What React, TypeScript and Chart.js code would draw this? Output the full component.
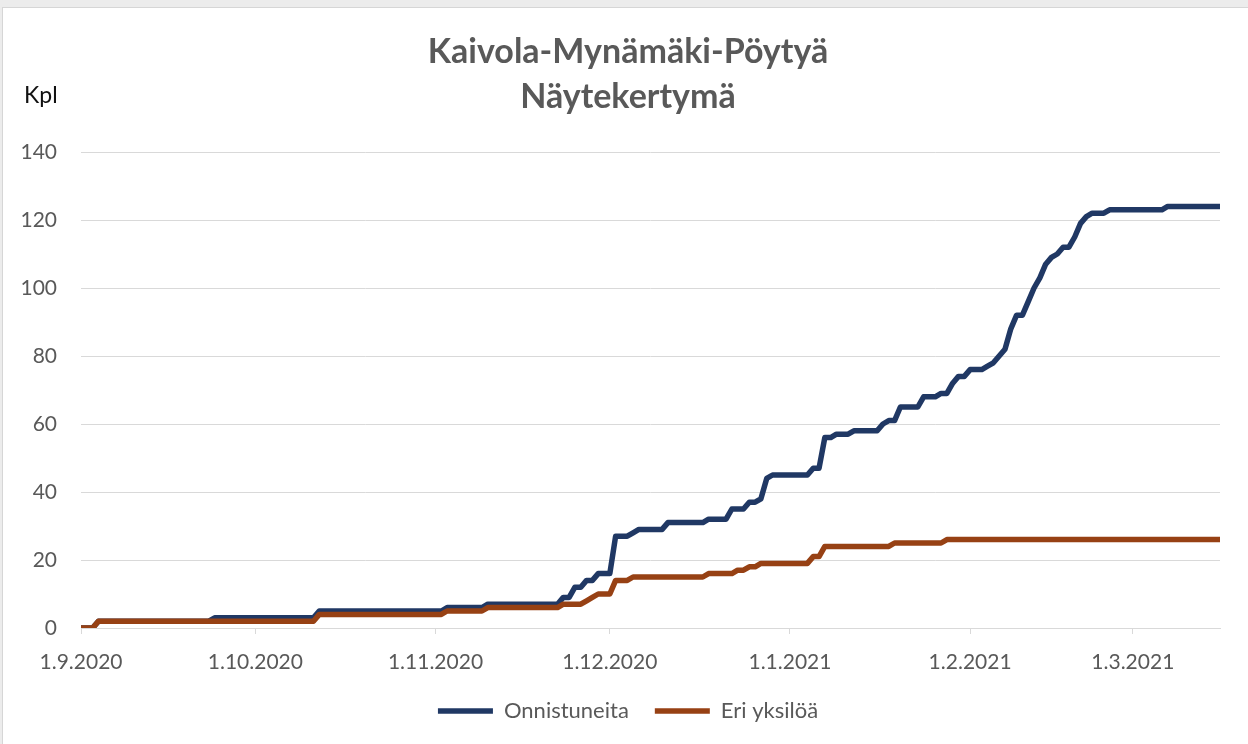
import React, { useEffect, useRef } from "react";
import { Chart, registerables } from "chart.js";

Chart.register(...registerables);

const titleLines = ["Kaivola-Mynämäki-Pöytyä", "Näytekertymä"];
const yUnit = "Kpl";
const seriesNames = ["Onnistuneita", "Eri yksilöä"];

// day index counted from 1.9.2020
const blueDays = [
  0, 2, 3, 22, 23, 40, 41, 62, 63, 69, 70, 82, 83, 84, 85, 86, 87, 88, 89, 91,
  92, 94, 95, 96, 100, 101, 107, 108, 111, 112, 114, 115, 116, 117, 118, 119,
  125, 126, 127, 128, 129, 130, 132, 133, 137, 138, 139, 140, 141, 144, 145,
  147, 148, 149, 150, 151, 152, 153, 155, 156, 157, 158, 159, 160, 161, 162,
  163, 164, 165, 166, 167, 168, 169, 170, 171, 172, 173, 174, 176, 177, 186,
  187, 196,
];
const blueValues = [
  0, 0, 2, 2, 3, 3, 5, 5, 6, 6, 7, 7, 9, 9, 12, 12, 14, 14, 16, 16,
  27, 27, 28, 29, 29, 31, 31, 32, 32, 35, 35, 37, 37, 38, 44, 45,
  45, 47, 47, 56, 56, 57, 57, 58, 58, 60, 61, 61, 65, 65, 68,
  68, 69, 69, 72, 74, 74, 76, 76, 77, 78, 80, 82, 88, 92, 92,
  96, 100, 103, 107, 109, 110, 112, 112, 115, 119, 121, 122, 122, 123, 123,
  124, 124,
];

const orangeDays = [
  0, 2, 3, 40, 41, 62, 63, 69, 70, 82, 83, 86, 87, 88, 89, 91, 92, 94, 95,
  107, 108, 112, 113, 114, 115, 116, 117, 125, 126, 127, 128, 139, 140, 148,
  149, 196,
];
const orangeValues = [
  0, 0, 2, 2, 4, 4, 5, 5, 6, 6, 7, 7, 8, 9, 10, 10, 14, 14, 15,
  15, 16, 16, 17, 17, 18, 18, 19, 19, 21, 21, 24, 24, 25, 25,
  26, 26,
];

const tickDays = [0, 30, 61, 91, 122, 153, 181];
const tickLabels = [
  "1.9.2020",
  "1.10.2020",
  "1.11.2020",
  "1.12.2020",
  "1.1.2021",
  "1.2.2021",
  "1.3.2021",
];
const lastDay = 196;
const yMax = 140;
const yStep = 20;

const toPoints = (d: number[], v: number[]) =>
  d.map((x, i) => ({ x, y: v[i] }));

export default function App() {
  const ref = useRef<HTMLCanvasElement>(null);

  useEffect(() => {
    Chart.defaults.font.family = "Lato";
    const unitPlugin = {
      id: "unitLabel",
      afterDraw(chart: any) {
        const ctx = chart.ctx;
        ctx.save();
        ctx.font = "23px Lato";
        ctx.fillStyle = "#111111";
        ctx.textAlign = "left";
        ctx.textBaseline = "middle";
        ctx.fillText(yUnit, 24, 96);
        ctx.restore();
      },
    };
    const chart = new Chart(ref.current!, {
      type: "line",
      data: {
        datasets: [
          {
            label: seriesNames[0],
            data: toPoints(blueDays, blueValues),
            borderColor: "#203864",
            backgroundColor: "#203864",
            borderWidth: 5.5,
            pointRadius: 0,
            borderCapStyle: "round",
            borderJoinStyle: "round",
            tension: 0,
            fill: false,
            order: 1,
          },
          {
            label: seriesNames[1],
            data: toPoints(orangeDays, orangeValues),
            borderColor: "#974114",
            backgroundColor: "#974114",
            borderWidth: 5.5,
            pointRadius: 0,
            borderCapStyle: "round",
            borderJoinStyle: "round",
            tension: 0,
            fill: false,
            order: 0,
          },
        ],
      },
      options: {
        animation: false,
        responsive: false,
        maintainAspectRatio: false,
        layout: { padding: { left: 8, right: 0, top: 0, bottom: 12 } },
        plugins: {
          title: {
            display: true,
            text: titleLines,
            color: "#595959",
            font: { family: "Lato", size: 34, weight: "bold", lineHeight: "45px" },
            padding: { top: 30, bottom: 32 },
          },
          legend: {
            position: "bottom",
            labels: {
              usePointStyle: true,
              pointStyle: "line",
              pointStyleWidth: 55,
              boxWidth: 55,
              color: "#595959",
              font: { size: 22 },
              padding: 26,
              sort: (a: any, b: any) => a.datasetIndex - b.datasetIndex,
            },
          },
          tooltip: { enabled: false },
        },
        scales: {
          x: {
            type: "linear",
            min: 0,
            max: lastDay,
            afterBuildTicks: (s: any) => {
              s.ticks = tickDays.map((v) => ({ value: v }));
            },
            afterFit: (s: any) => {
              s.height = 46;
            },
            ticks: {
              callback: (v: any) => {
                const i = tickDays.indexOf(Number(v));
                return i >= 0 ? tickLabels[i] : "";
              },
              color: "#595959",
              font: { size: 21 },
              padding: 16,
              maxRotation: 0,
              autoSkip: false,
            },
            grid: {
              drawOnChartArea: false,
              drawTicks: true,
              tickLength: 6,
              color: "#d9d9d9",
            },
            border: { display: true, color: "#d9d9d9", width: 1 },
          },
          y: {
            min: 0,
            max: yMax,
            afterFit: (s: any) => {
              s.width = 73;
            },
            ticks: {
              stepSize: yStep,
              color: "#595959",
              font: { size: 21 },
              padding: 24,
            },
            grid: { color: "#d9d9d9", drawTicks: false },
            border: { display: false },
          },
          yRight: {
            position: "right",
            display: true,
            min: 0,
            max: yMax,
            afterFit: (s: any) => {
              s.width = 28;
            },
            ticks: { display: false },
            grid: { display: false },
            border: { display: false },
          },
        },
      },
      plugins: [unitPlugin],
    } as any);
    return () => chart.destroy();
  }, []);

  return (
    <div
      style={{
        position: "absolute",
        left: 0,
        top: 0,
        width: 1248,
        height: 744,
        background: "#ececec",
        overflow: "hidden",
      }}
    >
      <div
        style={{
          position: "absolute",
          left: 2,
          top: 7,
          width: 1246,
          height: 737,
          background: "#ffffff",
          borderTop: "1px solid #d6d6d6",
          borderLeft: "1px solid #d6d6d6",
          boxSizing: "border-box",
        }}
      />
      <canvas
        ref={ref}
        width={1248}
        height={744}
        style={{ position: "absolute", left: 0, top: 0, display: "block" }}
      />
    </div>
  );
}
